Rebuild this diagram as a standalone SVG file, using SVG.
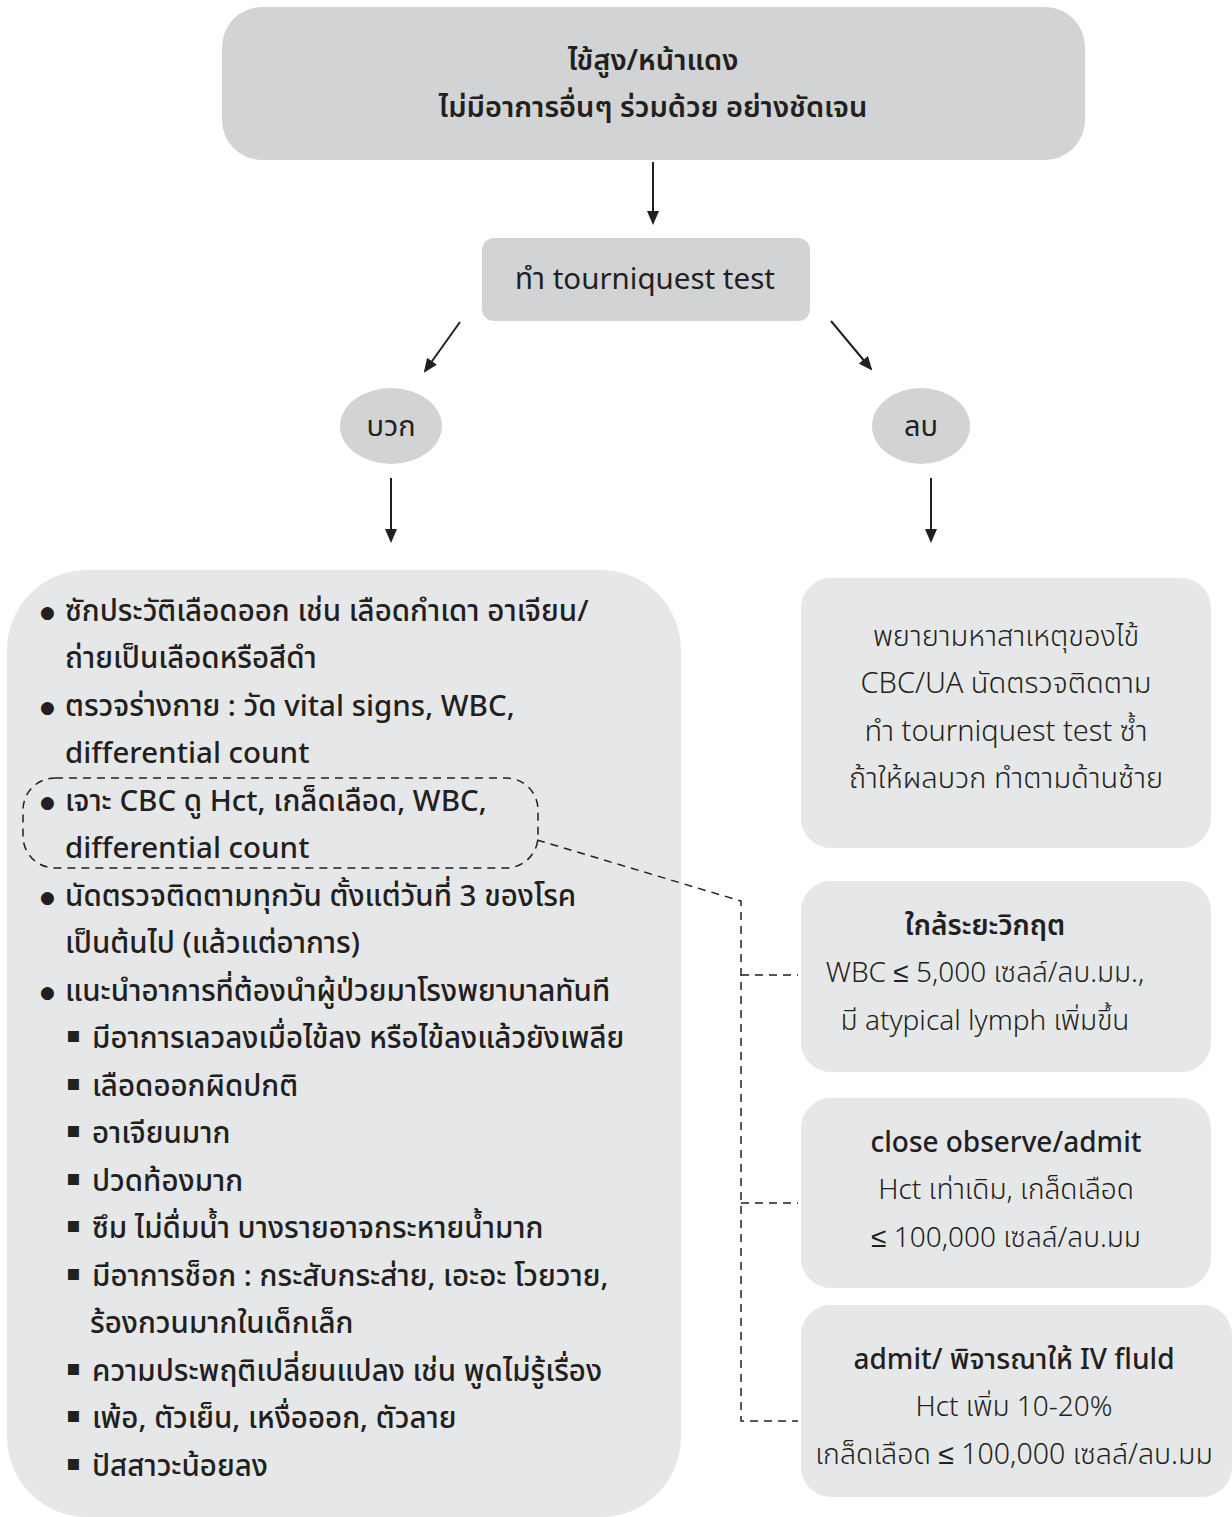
<svg xmlns="http://www.w3.org/2000/svg" width="1232" height="1517" viewBox="0 0 1232 1517">
<defs>
<marker id="ah" markerWidth="14" markerHeight="12" refX="12" refY="6" orient="auto" markerUnits="userSpaceOnUse" viewBox="0 0 14 12">
<path d="M0,0 L14,6 L0,12 Z" fill="#231f20"/>
</marker>
<style>
.dark{fill:#d1d3d4}
.light{fill:#e6e7e8}
text{font-family:"Noto Sans Thai","Noto Sans","DejaVu Sans",sans-serif;fill:#231f20}
.t1{font-size:29px;text-anchor:middle;font-weight:600}
.lt{font-size:29.5px;font-weight:500}
.rt{font-size:28px;text-anchor:middle;font-weight:300}
.b{font-weight:600}
.bul{font-size:17px}
.sq{font-size:22px}
.arr{stroke:#231f20;stroke-width:2;fill:none;marker-end:url(#ah)}
.dash{stroke:#231f20;stroke-width:1.5;fill:none;stroke-dasharray:8 6}
</style>
</defs>
<rect width="1232" height="1517" fill="#ffffff"/>
<g id="n-top">
<rect class="dark" x="222" y="7" width="863" height="153" rx="40"/>
<text class="t1" x="653" y="70">ไข้สูง/หน้าแดง</text>
<text class="t1" x="653" y="117">ไม่มีอาการอื่นๆ ร่วมด้วย อย่างชัดเจน</text>
</g>
<g id="n-test">
<rect class="dark" x="482" y="238" width="328" height="83" rx="12"/>
<text class="rt" x="645" y="289" style="font-size:29.5px;font-weight:400">ทำ tourniquest test</text>
</g>
<g id="n-pos">
<ellipse class="dark" cx="391" cy="426" rx="51" ry="38"/>
<text class="rt" x="391" y="436" style="font-size:29px;font-weight:400">บวก</text>
</g>
<g id="n-neg">
<ellipse class="dark" cx="921" cy="426" rx="49" ry="38"/>
<text class="rt" x="921" y="436" style="font-size:29px;font-weight:400">ลบ</text>
</g>
<g id="n-left">
<rect class="light" x="7" y="570" width="674" height="947" rx="80"/>
<rect class="dash" x="23" y="778" width="515" height="90" rx="32" fill="none"/>
<g class="lt">
<text x="40" y="621"><tspan class="bul" dy="-3">●</tspan><tspan x="65" dy="3">ซักประวัติเลือดออก เช่น เลือดกำเดา อาเจียน/</tspan></text>
<text x="65" y="668">ถ่ายเป็นเลือดหรือสีดำ</text>
<text x="40" y="716"><tspan class="bul" dy="-3">●</tspan><tspan x="65" dy="3">ตรวจร่างกาย : วัด vital signs, WBC,</tspan></text>
<text x="65" y="763">differential count</text>
<text x="40" y="811"><tspan class="bul" dy="-3">●</tspan><tspan x="65" dy="3">เจาะ CBC ดู Hct, เกล็ดเลือด, WBC,</tspan></text>
<text x="65" y="858">differential count</text>
<text x="40" y="906"><tspan class="bul" dy="-3">●</tspan><tspan x="65" dy="3">นัดตรวจติดตามทุกวัน ตั้งแต่วันที่ 3 ของโรค</tspan></text>
<text x="65" y="953">เป็นต้นไป (แล้วแต่อาการ)</text>
<text x="40" y="1001"><tspan class="bul" dy="-3">●</tspan><tspan x="65" dy="3">แนะนำอาการที่ต้องนำผู้ป่วยมาโรงพยาบาลทันที</tspan></text>
<text x="66" y="1048"><tspan class="sq" dy="-6">▪</tspan><tspan x="92" dy="6">มีอาการเลวลงเมื่อไข้ลง หรือไข้ลงแล้วยังเพลีย</tspan></text>
<text x="66" y="1096"><tspan class="sq" dy="-6">▪</tspan><tspan x="92" dy="6">เลือดออกผิดปกติ</tspan></text>
<text x="66" y="1143"><tspan class="sq" dy="-6">▪</tspan><tspan x="92" dy="6">อาเจียนมาก</tspan></text>
<text x="66" y="1191"><tspan class="sq" dy="-6">▪</tspan><tspan x="92" dy="6">ปวดท้องมาก</tspan></text>
<text x="66" y="1238"><tspan class="sq" dy="-6">▪</tspan><tspan x="92" dy="6">ซึม ไม่ดื่มน้ำ บางรายอาจกระหายน้ำมาก</tspan></text>
<text x="66" y="1286"><tspan class="sq" dy="-6">▪</tspan><tspan x="92" dy="6">มีอาการช็อก : กระสับกระส่าย, เอะอะ โวยวาย,</tspan></text>
<text x="90" y="1333">ร้องกวนมากในเด็กเล็ก</text>
<text x="66" y="1381"><tspan class="sq" dy="-6">▪</tspan><tspan x="92" dy="6">ความประพฤติเปลี่ยนแปลง เช่น พูดไม่รู้เรื่อง</tspan></text>
<text x="66" y="1428"><tspan class="sq" dy="-6">▪</tspan><tspan x="92" dy="6">เพ้อ, ตัวเย็น, เหงื่อออก, ตัวลาย</tspan></text>
<text x="66" y="1476"><tspan class="sq" dy="-6">▪</tspan><tspan x="92" dy="6">ปัสสาวะน้อยลง</tspan></text>
</g>
</g>
<g id="n-r1">
<rect class="light" x="801" y="578" width="410" height="270" rx="30"/>
<text class="rt" x="1006" y="646" style="font-size:29px">พยายามหาสาเหตุของไข้</text>
<text class="rt" x="1006" y="693" style="font-size:29px">CBC/UA นัดตรวจติดตาม</text>
<text class="rt" x="1006" y="741" style="font-size:29px">ทำ tourniquest test ซ้ำ</text>
<text class="rt" x="1006" y="788" style="font-size:29px">ถ้าให้ผลบวก ทำตามด้านซ้าย</text>
</g>
<g id="n-r2">
<rect class="light" x="801" y="881" width="410" height="191" rx="30"/>
<text class="rt b" x="985" y="935">ใกล้ระยะวิกฤต</text>
<text class="rt" x="985" y="982">WBC ≤ 5,000 เซลล์/ลบ.มม.,</text>
<text class="rt" x="985" y="1030">มี atypical lymph เพิ่มขึ้น</text>
</g>
<g id="n-r3">
<rect class="light" x="801" y="1098" width="410" height="190" rx="30"/>
<text class="rt b" x="1006" y="1152" style="font-weight:500">close observe/admit</text>
<text class="rt" x="1006" y="1199">Hct เท่าเดิม, เกล็ดเลือด</text>
<text class="rt" x="1006" y="1247">≤ 100,000 เซลล์/ลบ.มม</text>
</g>
<g id="n-r4">
<rect class="light" x="801" y="1305" width="431" height="192" rx="30"/>
<text class="rt" x="1014" y="1369" style="font-weight:500">admit/ พิจารณาให้ IV fluld</text>
<text class="rt" x="1014" y="1416">Hct เพิ่ม 10-20%</text>
<text class="rt" x="1014" y="1464" style="font-size:28.5px">เกล็ดเลือด ≤ 100,000 เซลล์/ลบ.มม</text>
</g>
<g id="connectors">
<line class="arr" x1="653" y1="162" x2="653" y2="223"/>
<line class="arr" x1="460" y1="322" x2="425" y2="371"/>
<line class="arr" x1="831" y1="321" x2="871" y2="369"/>
<line class="arr" x1="391" y1="478" x2="391" y2="541"/>
<line class="arr" x1="931" y1="478" x2="931" y2="541"/>
<path class="dash" d="M537,840 L741,901 L741,1421 L798,1421 M741,975 L798,975 M741,1203 L798,1203"/>
</g>
</svg>
